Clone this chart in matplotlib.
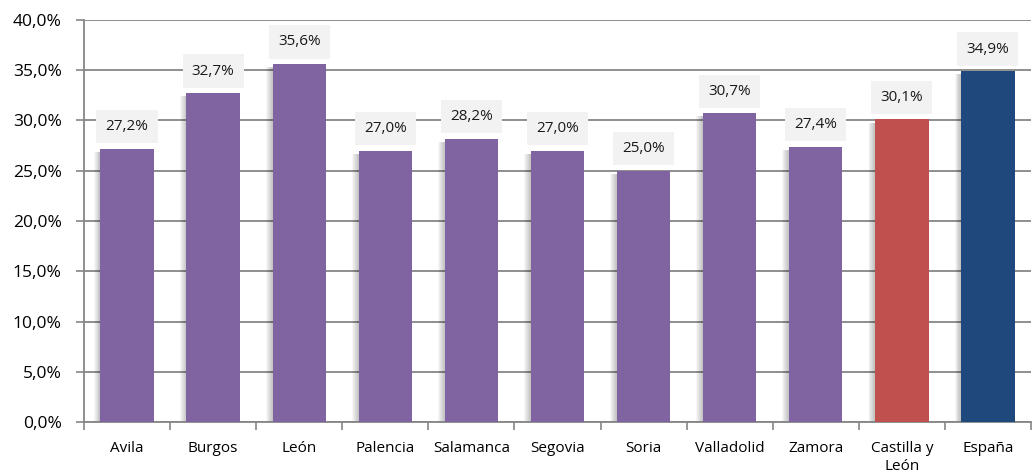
import matplotlib.pyplot as plt
import numpy as np

categories = ['Avila', 'Burgos', 'León', 'Palencia', 'Salamanca', 'Segovia',
              'Soria', 'Valladolid', 'Zamora', 'Castilla y\nLeón', 'España']
values = [27.2, 32.7, 35.6, 27.0, 28.2, 27.0, 25.0, 30.7, 27.4, 30.1, 34.9]
colors = ['#8064A2'] * 9 + ['#C0504D', '#1F497D']

plt.rcParams['font.family'] = ['Open Sans', 'DejaVu Sans']

fig = plt.figure(figsize=(10.32, 4.75), dpi=100)
ax = fig.add_axes([84 / 1032, 53 / 475, 947 / 1032, 402 / 475])

x = np.arange(len(categories))
width = 0.62

# soft shadow on the left side of each bar
for k in range(7):
    ax.bar(x - 0.011 * (k + 1), np.array(values) - 0.3, width,
           color='black', alpha=0.035, zorder=2, linewidth=0)
ax.bar(x, values, width, color=colors, zorder=3, linewidth=0)

for xi, v in zip(x, values):
    ax.annotate(f'{v:.1f}%'.replace('.', ','), (xi, v), xytext=(0, 16),
                textcoords='offset points', ha='center', va='center',
                fontsize=11, color='#1a1a1a', zorder=5,
                bbox=dict(boxstyle='square,pad=0.6', fc='#F2F2F2', ec='none'))

ax.set_xlim(-0.5, len(categories) - 0.5)
ax.set_ylim(0, 40)
ax.set_yticks(np.arange(0, 41, 5))
ax.set_yticklabels([f'{t:.1f}%'.replace('.', ',') for t in np.arange(0, 41, 5)],
                   fontsize=12.5)
ax.yaxis.grid(True, color='#868686', linewidth=1.3, zorder=0)
ax.set_axisbelow(True)

ax.set_xticks(x)
ax.set_xticklabels(categories, fontsize=11, linespacing=1.25)
ax.set_xticks(np.arange(-0.5, len(categories), 1), minor=True)
ax.tick_params(axis='x', which='major', length=0, pad=14)
ax.tick_params(axis='x', which='minor', length=6, color='#868686', width=1.2)
ax.tick_params(axis='y', length=6, color='#868686', width=1.2, pad=10)

for s in ['top', 'right']:
    ax.spines[s].set_visible(False)
for s in ['left', 'bottom']:
    ax.spines[s].set_color('#868686')
    ax.spines[s].set_linewidth(1.3)

fig.savefig('out.png', dpi=100)
